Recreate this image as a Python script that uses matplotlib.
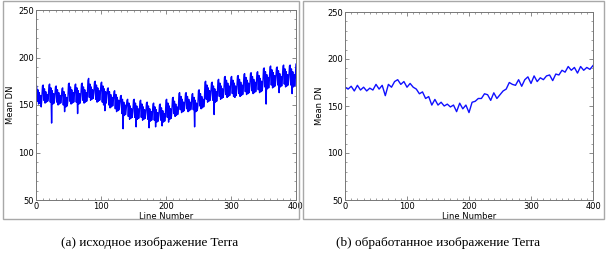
import numpy as np
import matplotlib.pyplot as plt
from matplotlib.patches import Rectangle
from matplotlib.ticker import MultipleLocator

# raw Terra image: mean DN per line, one row per 10-line detector cycle
raw_cycles = [
    [169, 170, 154, 166, 151, 163, 152, 160, 148, 157],
    [170, 171, 155, 167, 152, 164, 153, 161, 154, 158],
    [171, 172, 153, 168, 131, 165, 151, 162, 152, 159],
    [169, 170, 153, 166, 150, 163, 151, 160, 152, 157],
    [167, 168, 150, 164, 143, 161, 148, 158, 149, 155],
    [172, 173, 154, 169, 151, 166, 152, 163, 153, 160],
    [171, 172, 153, 168, 141, 165, 151, 162, 152, 159],
    [172, 173, 155, 169, 152, 166, 153, 163, 154, 160],
    [176, 178, 158, 172, 155, 169, 156, 166, 157, 163],
    [174, 175, 156, 171, 153, 168, 154, 165, 155, 162],
    [173, 174, 153, 170, 150, 167, 144, 164, 152, 161],
    [167, 168, 150, 164, 147, 161, 148, 158, 149, 155],
    [164, 165, 146, 161, 143, 158, 144, 155, 145, 152],
    [159, 160, 141, 156, 125, 153, 139, 150, 140, 147],
    [155, 156, 138, 152, 135, 149, 136, 146, 137, 143],
    [155, 156, 137, 152, 127, 149, 135, 146, 136, 143],
    [154, 155, 137, 151, 134, 148, 135, 145, 136, 142],
    [152, 153, 135, 149, 126, 146, 133, 143, 134, 140],
    [151, 152, 134, 148, 127, 145, 132, 142, 133, 139],
    [150, 151, 134, 147, 128, 144, 132, 141, 133, 138],
    [155, 156, 137, 152, 132, 149, 135, 146, 136, 143],
    [157, 158, 141, 154, 138, 151, 139, 148, 140, 145],
    [162, 163, 145, 159, 142, 156, 143, 153, 144, 150],
    [162, 163, 146, 159, 143, 156, 144, 153, 145, 150],
    [161, 162, 145, 158, 127, 155, 143, 152, 144, 149],
    [165, 166, 149, 162, 146, 159, 147, 156, 148, 153],
    [174, 175, 156, 171, 153, 168, 154, 165, 155, 162],
    [173, 174, 155, 170, 140, 167, 153, 164, 154, 161],
    [176, 177, 159, 173, 156, 170, 157, 167, 158, 164],
    [179, 180, 161, 176, 158, 173, 159, 170, 160, 167],
    [179, 180, 162, 176, 159, 173, 158, 170, 160, 167],
    [180, 181, 162, 177, 159, 174, 160, 171, 161, 168],
    [182, 183, 164, 179, 161, 176, 162, 173, 163, 170],
    [183, 184, 165, 180, 162, 177, 163, 174, 164, 171],
    [184, 185, 166, 181, 163, 178, 164, 175, 165, 172],
    [188, 189, 169, 185, 151, 182, 167, 179, 168, 176],
    [190, 191, 171, 187, 168, 184, 169, 181, 170, 178],
    [189, 190, 171, 186, 163, 183, 169, 180, 170, 177],
    [191, 192, 172, 188, 169, 185, 170, 182, 171, 179],
    [191, 192, 171, 188, 162, 185, 169, 182, 170, 179],
]
raw_last = 193

# processed image, sampled every 5 lines
proc_lines = list(range(0, 401, 5))
proc_dn = [170, 168, 171, 166, 172, 167, 170, 166, 169, 167,
           173, 168, 172, 161, 173, 170, 176, 178, 173, 176,
           170, 174, 170, 168, 163, 165, 158, 160, 151, 157,
           151, 154, 150, 152, 149, 151, 144, 153, 147, 151,
           143, 154, 155, 158, 158, 163, 162, 156, 164, 158,
           162, 166, 168, 175, 173, 172, 178, 171, 178, 181,
           174, 182, 176, 180, 178, 182, 183, 177, 184, 183,
           188, 186, 192, 188, 191, 185, 192, 188, 191, 189,
           193]

captions = ["(a) исходное изображение Terra", "(b) обработанное изображение Terra"]

raw_dn = [v for row in raw_cycles for v in row] + [raw_last]
raw_lines = np.arange(len(raw_dn))

fig = plt.figure(figsize=(6.07, 2.60), dpi=100)
W, H = 607, 260

# panel frames
for x0, x1 in [(3, 299), (303, 604)]:
    fig.patches.append(Rectangle((x0 / W, 1 - 219 / H), (x1 - x0) / W, 218 / H,
                                 transform=fig.transFigure, fill=False,
                                 edgecolor="#a8a8a8", linewidth=1.0))

ax1 = fig.add_axes([36 / W, 1 - 200 / H, 260 / W, 190 / H])
ax2 = fig.add_axes([345 / W, 1 - 200 / H, 248 / W, 188 / H])

ax1.plot(raw_lines, raw_dn, color="#0000ff", linewidth=1.0)
ax2.plot(proc_lines, proc_dn, color="#1010ff", linewidth=1.0)

for ax in (ax1, ax2):
    ax.set_xlim(0, 400)
    ax.set_ylim(50, 250)
    ax.xaxis.set_major_locator(MultipleLocator(100))
    ax.xaxis.set_minor_locator(MultipleLocator(10))
    ax.yaxis.set_major_locator(MultipleLocator(50))
    ax.yaxis.set_minor_locator(MultipleLocator(10))
    ax.tick_params(which="both", direction="in", top=True, right=True,
                   color="#777777", labelsize=6, pad=1.5)
    ax.tick_params(which="major", length=3, width=0.6)
    ax.tick_params(which="minor", length=1.5, width=0.5)
    for s in ax.spines.values():
        s.set_color("#777777")
        s.set_linewidth(0.7)
    ax.set_xlabel("Line Number", fontsize=6, labelpad=1)
    ax.set_ylabel("Mean DN", fontsize=6, labelpad=2)

fig.text(150 / W, 1 - 243 / H, captions[0], ha="center", va="center",
         fontsize=9.5, family="Liberation Serif")
fig.text(438 / W, 1 - 243 / H, captions[1], ha="center", va="center",
         fontsize=9.5, family="Liberation Serif")

fig.savefig("out.png", dpi=100)
